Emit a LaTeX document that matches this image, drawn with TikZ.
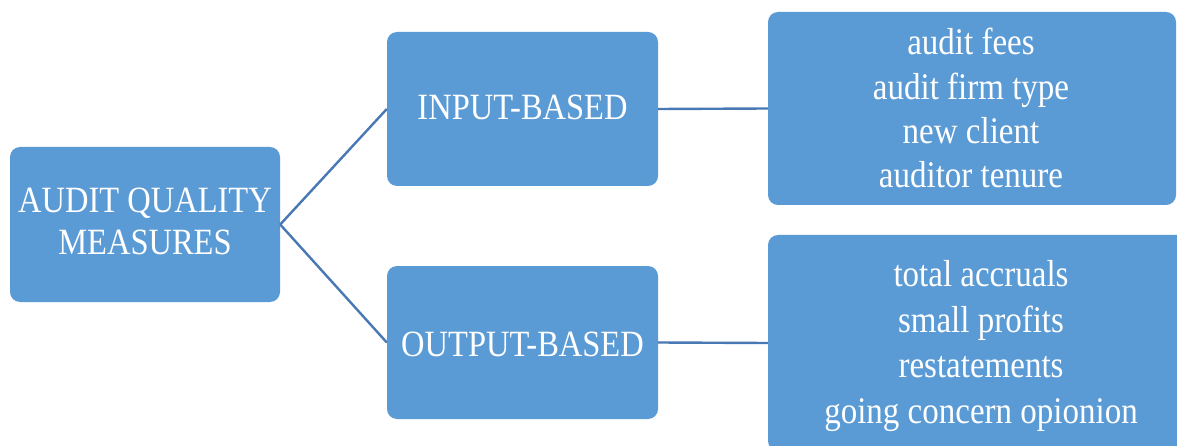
\documentclass[tikz,border=0pt]{standalone}
\usepackage{fontspec}
\setmainfont{Liberation Serif}
\usepackage{graphicx}
\definecolor{boxblue}{RGB}{91,155,213}
\definecolor{lineblue}{RGB}{72,121,180}
\newcommand{\boxtxt}[3]{\scalebox{1}[1.14]{\fontsize{#1}{#2}\selectfont\begin{tabular}[t]{@{}c@{}}#3\end{tabular}}}
\begin{document}
\begin{tikzpicture}[x=1pt,y=-1pt,
  bluebox/.style={rectangle, rounded corners=10pt, fill=boxblue, draw=none, inner sep=0pt, anchor=center},
  boxlabel/.style={text=white, inner sep=0pt, anchor=base},
  conn/.style={draw=lineblue, line width=2.4pt}]
\useasboundingbox (0,0) rectangle (1177,446);
\fill[white] (0,0) rectangle (1177,446);
\node[bluebox, minimum width=270pt, minimum height=155pt] (A) at (145,224.5) {};
\node[bluebox, minimum width=271pt, minimum height=154pt] (B) at (522.5,109) {};
\node[bluebox, minimum width=271pt, minimum height=153pt] (C) at (522.5,342.5) {};
\node[bluebox, minimum width=408pt, minimum height=193pt] (D) at (972,108.5) {};
\node[bluebox, minimum width=426pt, minimum height=216pt] (E) at (981,343) {};
\node[boxlabel] (At) at (145,212.7) {\boxtxt{32.5}{37.1}{AUDIT QUALITY\\MEASURES}};
\node[boxlabel] (Bt) at (522.5,119.3) {\boxtxt{32.5}{37}{INPUT-BASED}};
\node[boxlabel] (Ct) at (522.5,356.7) {\boxtxt{32.5}{37}{OUTPUT-BASED}};
\node[boxlabel] (Dt) at (971,55) {\boxtxt{33}{38.6}{audit fees\\audit firm type\\new client\\auditor tenure}};
\node[boxlabel] (Et) at (981,286.7) {\boxtxt{33}{39.9}{total accruals\\small profits\\restatements\\going concern opionion}};
\draw[conn] (A.east) -- (B.west);
\draw[conn] (A.east) -- (C.west);
\draw[conn] (B.east) -- (D.west);
\draw[conn] (C.east) -- (E.west);
\end{tikzpicture}
\end{document}
